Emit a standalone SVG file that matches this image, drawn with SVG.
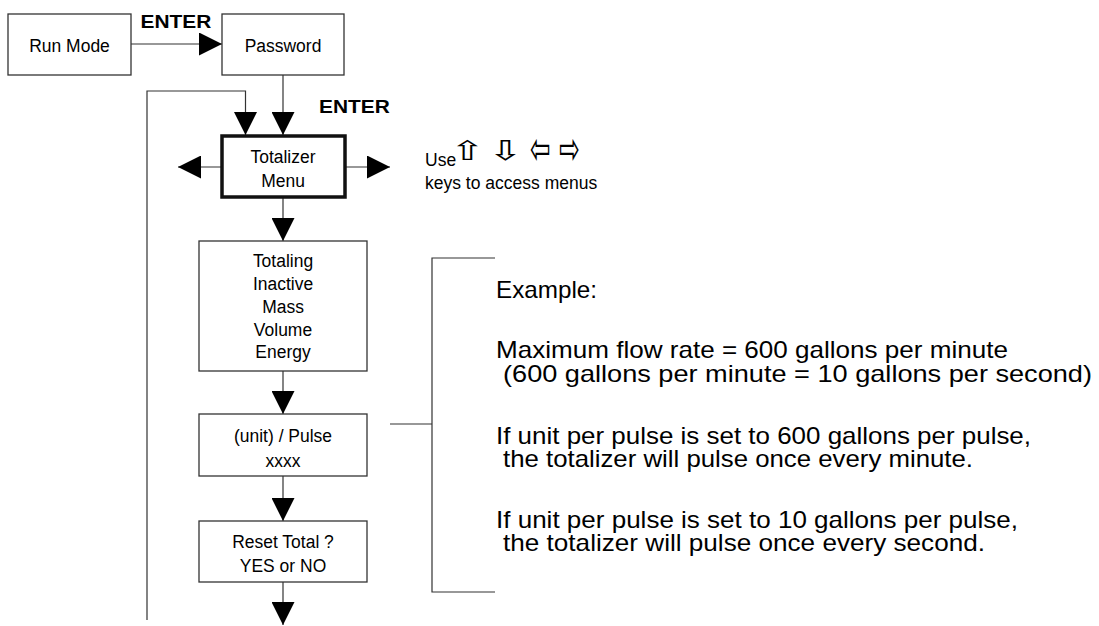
<svg xmlns="http://www.w3.org/2000/svg" width="1099" height="626" viewBox="0 0 1099 626">
<style>
.box{fill:#fff;stroke:#333;stroke-width:1.3}
.thick{fill:#fff;stroke:#111;stroke-width:3.5}
.ln{fill:none;stroke:#333;stroke-width:1.2}
.t{font-family:"Liberation Sans",Arial,sans-serif;font-size:19px;fill:#000;text-anchor:middle}
.e{font-family:"Liberation Sans",Arial,sans-serif;font-size:18.5px;font-weight:bold;fill:#000;text-anchor:middle}
.r{font-family:"Liberation Sans",Arial,sans-serif;font-size:24px;fill:#000}
.k{font-family:"Liberation Sans",Arial,sans-serif;font-size:17.5px;fill:#000}
.g{font-family:"DejaVu Sans",sans-serif;font-size:30px;fill:#000}
</style>
<defs>
<marker id="ah" markerWidth="23" markerHeight="23" refX="23" refY="11.5" orient="auto" markerUnits="userSpaceOnUse"><path d="M0,0 L23,11.5 L0,23 z" fill="#000"/></marker>
</defs>
<g id="connectors">
<line class="ln" x1="131" y1="44" x2="222" y2="44" marker-end="url(#ah)"/>
<line class="ln" x1="283" y1="75" x2="283" y2="135" marker-end="url(#ah)"/>
<polyline class="ln" points="147,620 147,91 245.5,91 245.5,135" marker-end="url(#ah)"/>
<line class="ln" x1="221" y1="167" x2="178" y2="167" marker-end="url(#ah)"/>
<line class="ln" x1="346" y1="167" x2="390" y2="167" marker-end="url(#ah)"/>
<line class="ln" x1="283" y1="198" x2="283" y2="241" marker-end="url(#ah)"/>
<line class="ln" x1="283" y1="371" x2="283" y2="414" marker-end="url(#ah)"/>
<line class="ln" x1="283" y1="476" x2="283" y2="521" marker-end="url(#ah)"/>
<line class="ln" x1="283" y1="582" x2="283" y2="625" marker-end="url(#ah)"/>
<line class="ln" x1="390" y1="424" x2="432" y2="424"/>
<polyline class="ln" points="495,258 432,258 432,592 495,592"/>
<text class="e" transform="translate(176,28) scale(1.13,1)">ENTER</text>
<text class="e" transform="translate(354.5,113) scale(1.13,1)">ENTER</text>
</g>
<g id="run-mode">
<rect class="box" x="8" y="14" width="123" height="61"/>
<text class="t" transform="translate(69.5,52) scale(0.92,1)">Run Mode</text>
</g>
<g id="password">
<rect class="box" x="222" y="14" width="122" height="61"/>
<text class="t" transform="translate(283,52) scale(0.92,1)">Password</text>
</g>
<g id="totalizer-menu">
<rect class="thick" x="222" y="136" width="123" height="61"/>
<text class="t" transform="translate(283,163) scale(0.92,1)">Totalizer</text>
<text class="t" transform="translate(283,186.5) scale(0.92,1)">Menu</text>
</g>
<g id="totaling">
<rect class="box" x="199" y="241" width="168" height="130"/>
<text class="t" transform="translate(283,267) scale(0.92,1)">Totaling</text>
<text class="t" transform="translate(283,290) scale(0.92,1)">Inactive</text>
<text class="t" transform="translate(283,313) scale(0.92,1)">Mass</text>
<text class="t" transform="translate(283,336) scale(0.92,1)">Volume</text>
<text class="t" transform="translate(283,358) scale(0.92,1)">Energy</text>
</g>
<g id="unit-pulse">
<rect class="box" x="199" y="414" width="168" height="62"/>
<text class="t" transform="translate(283,441.5) scale(0.92,1)">(unit) / Pulse</text>
<text class="t" transform="translate(283,466.5) scale(0.92,1)">xxxx</text>
</g>
<g id="reset-total">
<rect class="box" x="199" y="521" width="168" height="61"/>
<text class="t" transform="translate(283,548) scale(0.92,1)">Reset Total ?</text>
<text class="t" transform="translate(283,571.5) scale(0.92,1)">YES or NO</text>
</g>
<g id="keys-note">
<text class="k" x="425" y="166">Use</text>
<text class="g" transform="translate(450,160) scale(1.4,0.9)">⇧</text>
<text class="g" transform="translate(488,160) scale(1.4,0.9)">⇩</text>
<text class="g" transform="translate(530,164) scale(0.82,1.5)">⇦</text>
<text class="g" transform="translate(559,164) scale(0.82,1.5)">⇨</text>
<text class="k" x="425" y="189">keys to access menus</text>
</g>
<g id="example">
<text class="r" x="496" y="298" textLength="101" lengthAdjust="spacingAndGlyphs">Example:</text>
<text class="r" x="496" y="358" textLength="512" lengthAdjust="spacingAndGlyphs">Maximum flow rate = 600 gallons per minute</text>
<text class="r" x="503" y="382" textLength="589" lengthAdjust="spacingAndGlyphs">(600 gallons per minute = 10 gallons per second)</text>
<text class="r" x="496" y="444" textLength="535" lengthAdjust="spacingAndGlyphs">If unit per pulse is set to 600 gallons per pulse,</text>
<text class="r" x="503" y="467" textLength="470" lengthAdjust="spacingAndGlyphs">the totalizer will pulse once every minute.</text>
<text class="r" x="496" y="528" textLength="522" lengthAdjust="spacingAndGlyphs">If unit per pulse is set to 10 gallons per pulse,</text>
<text class="r" x="503" y="551" textLength="482" lengthAdjust="spacingAndGlyphs">the totalizer will pulse once every second.</text>
</g>
</svg>
